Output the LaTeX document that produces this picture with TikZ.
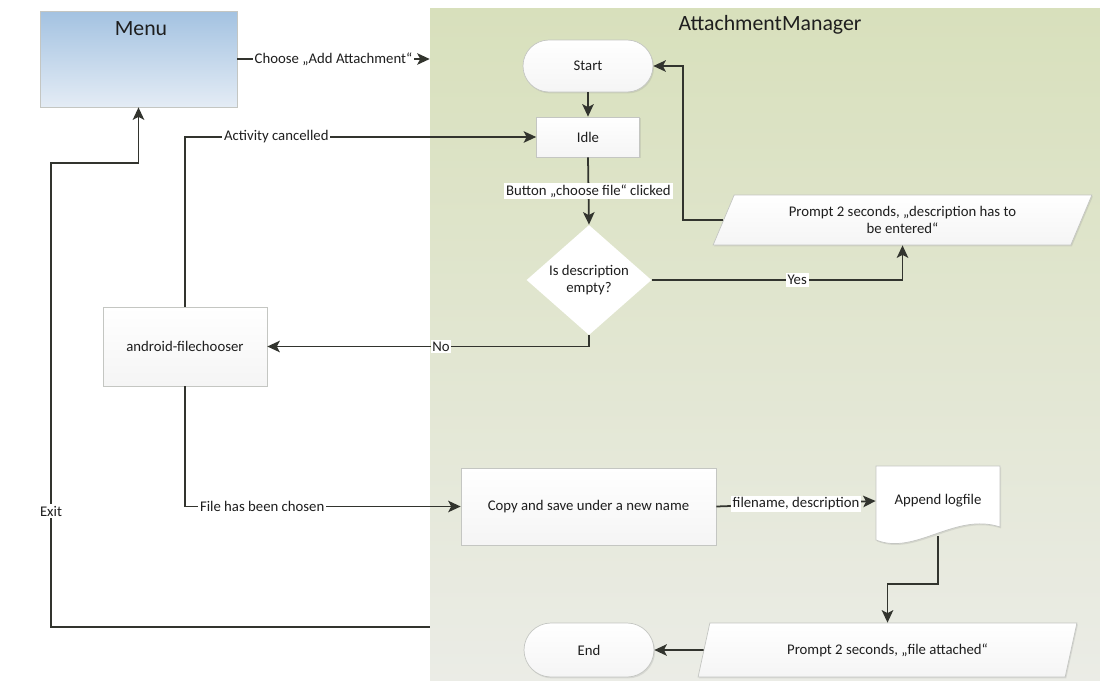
\documentclass[tikz,border=0pt]{standalone}
\usepackage{fontspec}
\setmainfont{Carlito}
\usetikzlibrary{shapes}
\usetikzlibrary{arrows.meta}
\usetikzlibrary{shadows}
\usetikzlibrary{calc}
\definecolor{linegray}{RGB}{50,52,46}
\definecolor{boxline}{RGB}{196,198,194}
\definecolor{menutop}{RGB}{163,194,225}
\definecolor{menubot}{RGB}{228,236,245}
\definecolor{amtop}{RGB}{216,224,188}
\definecolor{ambot}{RGB}{235,236,230}
\definecolor{textgray}{RGB}{30,30,30}

\begin{document}
\begin{tikzpicture}[x=0.02cm, y=-0.02cm, >={Stealth[length=2.5mm,width=2.3mm,inset=.6mm]},
font=\fontsize{8.4}{10}\selectfont, text=textgray,
box/.style={rectangle, draw=boxline, top color=white, bottom color=white!92!gray, inner sep=0, align=center,
  drop shadow={shadow xshift=.6pt, shadow yshift=-.8pt, opacity=.18}},
term/.style={box, rounded rectangle},
decision/.style={diamond, draw=none, fill=white, inner sep=0, align=center},
io/.style={box, trapezium, trapezium left angle=63, trapezium right angle=117, trapezium stretches=true},
flow/.style={draw=linegray, line width=1pt, ->},
lbl/.style={fill=white, inner sep=1pt},
heading/.style={font=\fontsize{12.4}{14}\selectfont, inner sep=0}]

% page size
\useasboundingbox (0,0) rectangle (1107,681);

% SWIMLANES
\node[rectangle, inner sep=0, minimum width=13.4cm, minimum height=13.46cm, top color=amtop, bottom color=ambot] (amgr) at (765,344.5) {};
\node[heading] (amgrtitle) at (770,25) {AttachmentManager};
\node[rectangle, inner sep=0, draw=boxline, minimum width=3.94cm, minimum height=1.92cm, top color=menutop, bottom color=menubot] (menu) at (138.5,59) {};
\node[heading] (menutitle) at (141,29) {Menu};

% NODES
\node[term, minimum width=2.6cm, minimum height=1.04cm] (start) at (588,66) {Start};
\node[box, minimum width=2.06cm, minimum height=.8cm] (idle) at (588,137) {Idle};
\node[decision, minimum width=2.5cm, minimum height=1.5cm] (decide) at (589,280) {Is description\\empty?};
\node[io, minimum width=7.58cm, minimum height=1cm] (prompt1) at (902.5,220) {Prompt 2 seconds, „description has to\\be entered“};
\node[box, minimum width=3.28cm, minimum height=1.58cm] (android) at (185,346.5) {android-filechooser};
\node[box, minimum width=5.1cm, minimum height=1.54cm] (copy) at (588.5,506.5) {Copy and save under a new name};
% document shape
\coordinate (lognw) at (876,466);
\coordinate (logse) at (1000,536);
\fill[white, draw=boxline, drop shadow={shadow xshift=.6pt, shadow yshift=-.8pt, opacity=.18}]
  (lognw) -- (lognw -| logse) -- (1000,527) .. controls (955,512) and (915,556) .. (876,540) -- cycle;
\node[inner sep=0, minimum width=2.48cm, minimum height=1.4cm] (logfile) at ($(lognw)!.5!(logse)$) {Append logfile};
\node[io, minimum width=7.58cm, minimum height=1.08cm] (prompt2) at (887.5,650) {Prompt 2 seconds, „file attached“};
\node[term, minimum width=2.6cm, minimum height=1.08cm] (end) at (589,650) {End};

% CONNECTORS
\draw[flow] (menu.east) -- (menu.east -| amgr.west) node[lbl, midway] {Choose „Add Attachment“};
\draw[flow] (start.south) -- (idle.north);
\draw[flow] (idle.south) -- (decide.north) node[lbl, midway] {Button „choose file“ clicked};
\draw[flow] (decide.east) -| (prompt1.south) node[lbl, pos=.29] {Yes};
\draw[flow] (prompt1.west) -- ++(-40,0) |- (start.east);
\draw[flow] (decide.south) |- (android.east) node[lbl, pos=.73] {No};
\draw[flow] (android.north) |- (idle.west) node[lbl, pos=.63] {Activity cancelled};
\draw[flow] (android.south) |- (copy.west) node[lbl, pos=.64] {File has been chosen};
\draw[flow] (copy.east) -- (logfile.west) node[lbl, midway] {filename, description};
\draw[flow] (logfile.south) -- ++(0,48) -| (prompt2.north);
\draw[flow] (prompt2.west) -- (end.east);
\coordinate (exitrow) at (51,627);
\coordinate (exitbend) at (51,163);
\draw[flow] (amgr.west |- exitrow) -- (exitrow) -- (exitbend) node[lbl, pos=.25] {Exit} -| (menu.south);
\end{tikzpicture}
\end{document}
